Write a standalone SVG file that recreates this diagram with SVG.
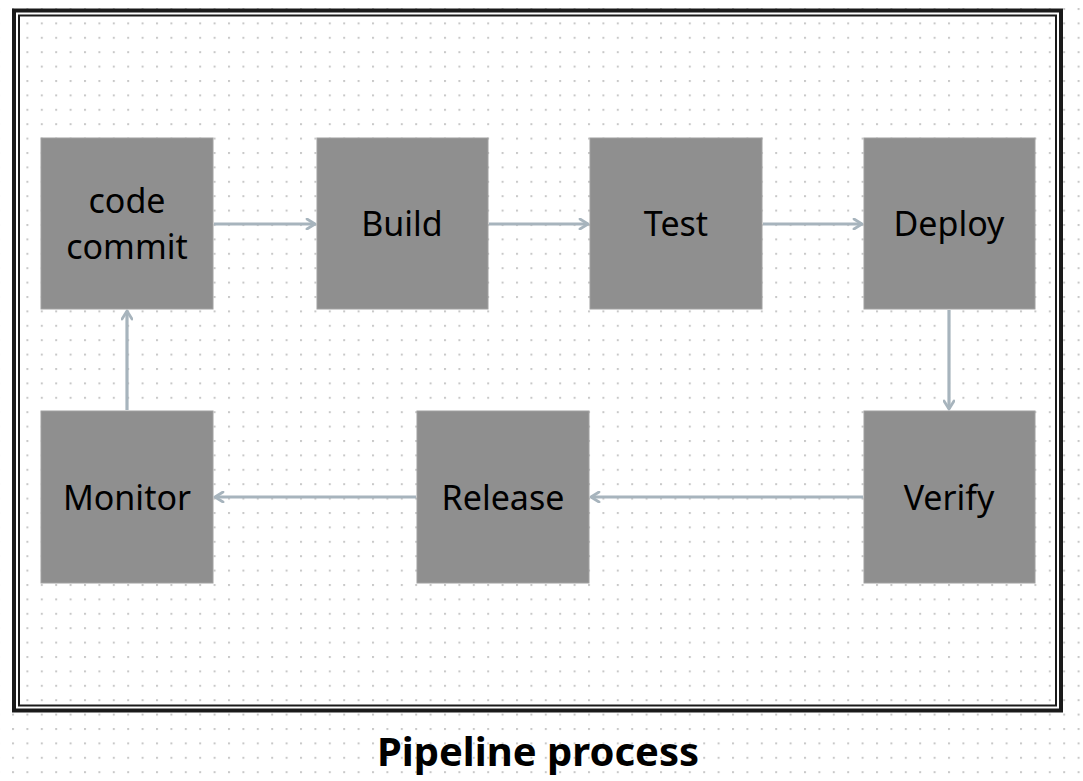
<svg xmlns="http://www.w3.org/2000/svg" width="1083" height="781" viewBox="0 0 1083 781">
<defs>
<pattern id="dots" x="12" y="8" width="14.4" height="14.4" patternUnits="userSpaceOnUse">
<rect x="0" y="0" width="2" height="2" fill="#c8c8c8"/>
</pattern>
<marker id="arr" viewBox="0 0 12 12" refX="10" refY="6" markerWidth="12" markerHeight="12" markerUnits="userSpaceOnUse" orient="auto">
<path d="M2,1 L10,6 L2,11" fill="none" stroke="#a7b4bd" stroke-width="2.8" stroke-linecap="round" stroke-linejoin="round"/>
</marker>
<style>
.box{fill:#8f8f8f;stroke:#a0a0a0;stroke-width:1}
.lbl{font-family:"Noto Sans","Open Sans",sans-serif;font-size:34px;fill:#000;text-anchor:middle}
.conn{stroke:#a7b4bd;stroke-width:3.2;fill:none;marker-end:url(#arr)}
</style>
</defs>
<rect width="1083" height="781" fill="#fff"/>
<rect width="1083" height="781" fill="url(#dots)"/>
<rect x="14" y="10.5" width="1047" height="700" fill="none" stroke="#1a1a1a" stroke-width="4"/>
<rect x="19" y="15.5" width="1037" height="690" fill="none" stroke="#1a1a1a" stroke-width="2"/>
<g id="connectors">
<line class="conn" x1="214" y1="224" x2="315" y2="224"/>
<line class="conn" x1="489" y1="224" x2="588" y2="224"/>
<line class="conn" x1="763" y1="224" x2="862" y2="224"/>
<line class="conn" x1="949" y1="310" x2="949" y2="409"/>
<line class="conn" x1="863" y1="497" x2="591" y2="497"/>
<line class="conn" x1="416" y1="497" x2="215" y2="497"/>
<line class="conn" x1="127" y1="410" x2="127" y2="311"/>
</g>
<g id="code-commit"><rect class="box" x="41" y="138" width="172" height="171"/><text class="lbl" x="127" y="213">code</text><text class="lbl" x="127" y="259">commit</text></g>
<g id="build"><rect class="box" x="317" y="138" width="171" height="171"/><text class="lbl" x="402" y="236">Build</text></g>
<g id="test"><rect class="box" x="590" y="138" width="172" height="171"/><text class="lbl" x="676" y="236">Test</text></g>
<g id="deploy"><rect class="box" x="864" y="138" width="171" height="171"/><text class="lbl" x="949" y="236">Deploy</text></g>
<g id="verify"><rect class="box" x="864" y="411" width="171" height="172"/><text class="lbl" x="949" y="510">Verify</text></g>
<g id="release"><rect class="box" x="417" y="411" width="172" height="172"/><text class="lbl" x="503" y="510">Release</text></g>
<g id="monitor"><rect class="box" x="41" y="411" width="172" height="172"/><text class="lbl" x="127" y="510">Monitor</text></g>
<text x="538" y="766" font-family="'Noto Sans','Open Sans',sans-serif" font-weight="bold" font-size="40" fill="#000" text-anchor="middle">Pipeline process</text>
</svg>
